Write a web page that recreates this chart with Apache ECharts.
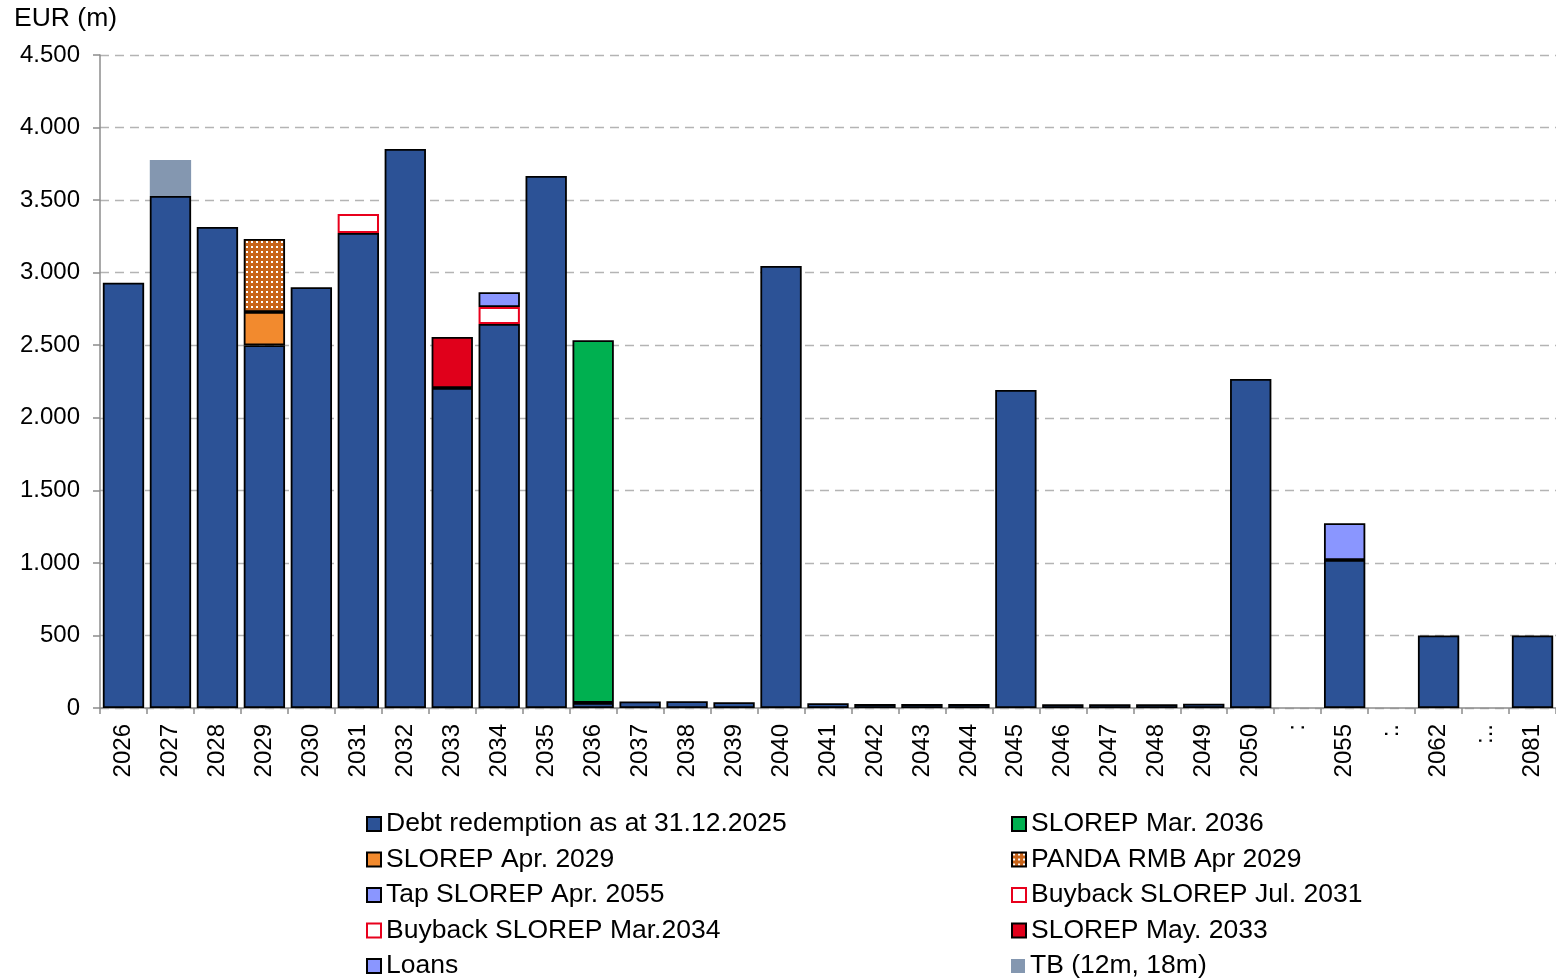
<!DOCTYPE html>
<html>
<head>
<meta charset="utf-8">
<script src="https://cdn.jsdelivr.net/npm/echarts@6/dist/echarts.min.js"></script>
<style>
html,body{margin:0;padding:0;background:#fff;}
#chart{width:1556px;height:978px;}
</style>
</head>
<body>
<div id="chart"></div>
<script>
// ---- Data ----
var categories = ['2026','2027','2028','2029','2030','2031','2032','2033','2034','2035','2036','2037','2038','2039','2040','2041','2042','2043','2044','2045','2046','2047','2048','2049','2050',':','2055',':.','2062',':..','2081'];
var yTicks = [0,500,1000,1500,2000,2500,3000,3500,4000,4500];

var debt        = [2930,3528,3315,2500,2900,3273,3852,2205,2646,3666,35,45,47,40,3046,33,27,27,27,2191,26,26,26,30,2267,null,1020,null,500,null,500];
var slorepApr29 = [null,null,null,229,null,null,null,null,null,null,null,null,null,null,null,null,null,null,null,null,null,null,null,null,null,null,null,null,null,null,null];
var pandaRmb    = [null,null,null,503,null,null,null,null,null,null,null,null,null,null,null,null,null,null,null,null,null,null,null,null,null,null,null,null,null,null,null];
var buybackJul31= [null,null,null,null,null,131,null,null,null,null,null,null,null,null,null,null,null,null,null,null,null,null,null,null,null,null,null,null,null,null,null];
var slorepMay33 = [null,null,null,null,null,null,null,352,null,null,null,null,null,null,null,null,null,null,null,null,null,null,null,null,null,null,null,null,null,null,null];
var buybackMar34= [null,null,null,null,null,null,null,null,117,null,null,null,null,null,null,null,null,null,null,null,null,null,null,null,null,null,null,null,null,null,null];
var loans       = [null,null,null,null,null,null,null,null,102,null,null,null,null,null,null,null,null,null,null,null,null,null,null,null,null,null,null,null,null,null,null];
var tapApr55    = [null,null,null,null,null,null,null,null,null,null,null,null,null,null,null,null,null,null,null,null,null,null,null,null,null,null,253,null,null,null,null];
var slorepMar36 = [null,null,null,null,null,null,null,null,null,null,2500,null,null,null,null,null,null,null,null,null,null,null,null,null,null,null,null,null,null,null,null];
var tb          = [null,248,null,null,null,null,null,null,null,null,null,null,null,null,null,null,null,null,null,null,null,null,null,null,null,null,null,null,null,null,null];

var legendLeftCol  = ['Debt redemption as at 31.12.2025','SLOREP Apr. 2029','Tap SLOREP Apr. 2055','Buyback SLOREP Mar.2034','Loans'];
var legendRightCol = ['SLOREP Mar. 2036','PANDA RMB Apr 2029','Buyback SLOREP Jul. 2031','SLOREP May. 2033','TB (12m, 18m)'];

// ---- Pattern for PANDA ----
var pc = document.createElement('canvas');
pc.width = 5; pc.height = 5;
var ctx = pc.getContext('2d');
ctx.fillStyle = '#c8641a';
ctx.fillRect(0,0,5,5);
ctx.fillStyle = '#ffffff';
ctx.fillRect(1,1,2,2);

var FONT = 'Liberation Sans, Arial, sans-serif';
var chart = echarts.init(document.getElementById('chart'));

function bar(name, data, style) {
  return {
    name: name, type: 'bar', stack: 'total', data: data,
    barCategoryGap: '12%',
    itemStyle: Object.assign({borderColor:'#000', borderWidth:1.8}, style),
    emphasis: {disabled: true}
  };
}

var legendText = {fontFamily: FONT, fontSize: 26.5, color: '#000', lineHeight: 28};
var legends = [];
function addLegendCol(names, left) {
  names.forEach(function (n, i) {
    legends.push({
      left: left, top: 824 + i * 35.5 - 14, padding: 0, itemGap: 0,
      itemWidth: 14, itemHeight: 14, icon: 'rect', selectedMode: false,
      textStyle: legendText, data: [n]
    });
  });
}
addLegendCol(legendLeftCol, 366);
addLegendCol(legendRightCol, 1011);

chart.setOption({
  animation: false,
  backgroundColor: '#fff',
  graphic: [{
    type: 'text', left: 14, top: 5,
    style: {text: 'EUR (m)', font: '26.5px ' + FONT, fill: '#000'}
  }],
  legend: legends,
  grid: {left: 100, right: 0, top: 55, bottom: 270, containLabel: false},
  xAxis: {
    type: 'category', data: categories,
    axisLine: {lineStyle: {color: '#8c8c8c', width: 1.5}},
    axisTick: {show: true, interval: 0, length: 6, lineStyle: {color: '#8c8c8c', width: 1.5}},
    axisLabel: {interval: 0, rotate: 90, margin: 16, fontFamily: FONT, fontSize: 24, color: '#000'}
  },
  yAxis: {
    type: 'value', min: 0, max: 4500, interval: 500,
    axisLine: {show: true, lineStyle: {color: '#8c8c8c', width: 1.5}},
    axisTick: {show: true, length: 7, lineStyle: {color: '#8c8c8c', width: 1.5}},
    axisLabel: {
      margin: 20, fontFamily: FONT, fontSize: 24, color: '#000',
      formatter: function (v) { return yTicks.indexOf(v) >= 0 ? String(v).replace(/\B(?=(\d{3})+(?!\d))/g, '.') : ''; }
    },
    splitLine: {lineStyle: {color: '#b4b4b4', type: [9,6], width: 1.3}}
  },
  series: [
    bar('Debt redemption as at 31.12.2025', debt, {color: '#2c5296'}),
    bar('SLOREP Apr. 2029', slorepApr29, {color: '#f28a2e'}),
    bar('PANDA RMB Apr 2029', pandaRmb, {color: {image: pc, repeat: 'repeat'}}),
    bar('Buyback SLOREP Jul. 2031', buybackJul31, {color: '#ffffff', borderColor: '#e8001c', borderWidth: 2}),
    bar('SLOREP May. 2033', slorepMay33, {color: '#e0001b'}),
    bar('Buyback SLOREP Mar.2034', buybackMar34, {color: '#ffffff', borderColor: '#e8001c', borderWidth: 2}),
    bar('Loans', loans, {color: '#8a96ff'}),
    bar('Tap SLOREP Apr. 2055', tapApr55, {color: '#8a96ff'}),
    bar('SLOREP Mar. 2036', slorepMar36, {color: '#00b050'}),
    bar('TB (12m, 18m)', tb, {color: '#8497b0', borderWidth: 0})
  ]
});
</script>
</body>
</html>
